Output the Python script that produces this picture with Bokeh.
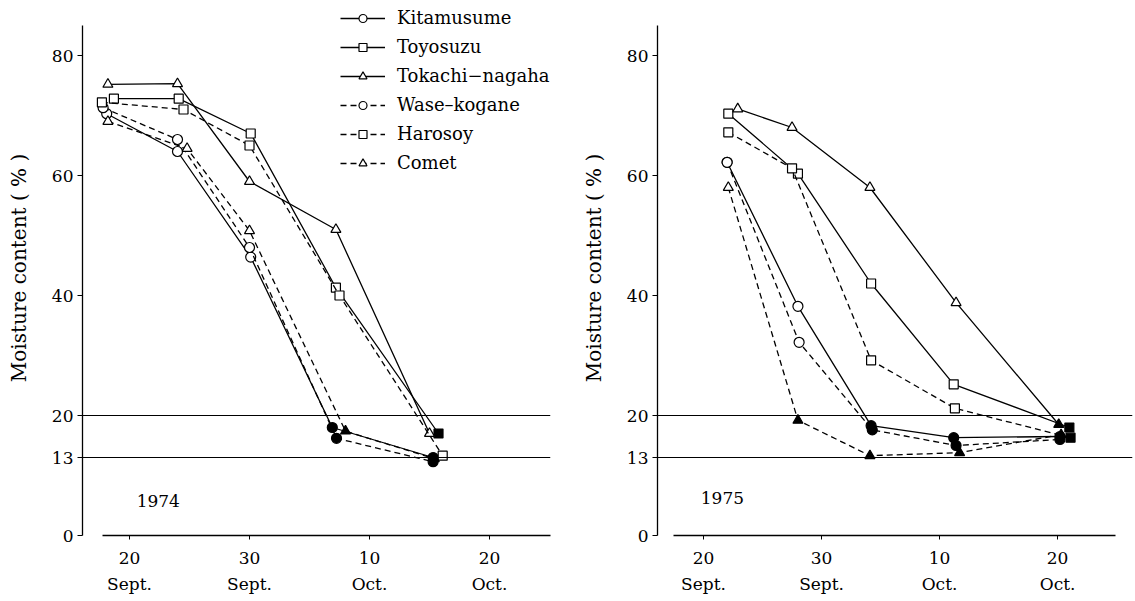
from bokeh.plotting import figure
from bokeh.layouts import row
from bokeh.models import ColumnDataSource, Span, Label, Legend, LegendItem, FixedTicker
from bokeh.embed import file_html
from bokeh.resources import INLINE

# ---------------- data ----------------
# x values are day numbers: Sept d -> d, Oct d -> 30 + d
varieties = ["Kitamusume", "Toyosuzu", "Tokachi-nagaha", "Wase-kogane", "Harosoy", "Comet"]
legend_labels = ["Kitamusume", "Toyosuzu", "Tokachi\u2212nagaha", "Wase\u2013kogane", "Harosoy", "Comet"]

# 1974
kitamusume_1974_x = [18.1, 24.0, 30.1, 36.9, 45.3]
kitamusume_1974_y = [70.3, 64.0, 46.4, 18.0, 13.0]
kitamusume_1974_filled = [0, 0, 0, 1, 1]
toyosuzu_1974_x = [18.7, 24.1, 30.1, 37.2, 45.75]
toyosuzu_1974_y = [72.8, 72.8, 67.0, 41.3, 17.0]
toyosuzu_1974_filled = [0, 0, 0, 0, 1]
tokachi_1974_x = [18.2, 24.0, 30.0, 37.2, 45.0]
tokachi_1974_y = [75.2, 75.3, 59.0, 51.0, 17.0]
tokachi_1974_filled = [0, 0, 0, 0, 0]
wase_1974_x = [17.8, 24.0, 30.0, 37.25, 45.3]
wase_1974_y = [71.3, 66.0, 48.0, 16.2, 12.3]
wase_1974_filled = [0, 0, 0, 1, 1]
harosoy_1974_x = [17.7, 24.5, 30.0, 37.5, 46.1]
harosoy_1974_y = [72.2, 71.0, 65.0, 40.0, 13.3]
harosoy_1974_filled = [0, 0, 0, 0, 0]
comet_1974_x = [18.2, 24.8, 30.0, 38.0, 45.4]
comet_1974_y = [69.0, 64.5, 50.8, 17.4, 12.8]
comet_1974_filled = [0, 0, 0, 1, 1]

# 1975
kitamusume_1975_x = [22.0, 28.0, 34.2, 41.2, 50.2]
kitamusume_1975_y = [62.2, 38.2, 18.3, 16.3, 16.5]
kitamusume_1975_filled = [0, 0, 1, 1, 1]
toyosuzu_1975_x = [22.1, 28.0, 34.2, 41.2, 51.0]
toyosuzu_1975_y = [70.3, 60.3, 42.0, 25.2, 18.0]
toyosuzu_1975_filled = [0, 0, 0, 0, 1]
tokachi_1975_x = [22.9, 27.5, 34.1, 41.4, 50.1]
tokachi_1975_y = [71.1, 68.0, 58.0, 38.8, 18.5]
tokachi_1975_filled = [0, 0, 0, 0, 1]
wase_1975_x = [22.0, 28.1, 34.3, 41.4, 50.2]
wase_1975_y = [62.2, 32.2, 17.6, 15.0, 16.0]
wase_1975_filled = [0, 0, 1, 1, 1]
harosoy_1975_x = [22.1, 27.5, 34.2, 41.3, 51.1]
harosoy_1975_y = [67.2, 61.2, 29.2, 21.2, 16.3]
harosoy_1975_filled = [0, 0, 0, 0, 1]
comet_1975_x = [22.1, 28.0, 34.1, 41.7, 50.3]
comet_1975_y = [58.0, 19.2, 13.3, 13.8, 16.8]
comet_1975_filled = [0, 1, 1, 1, 1]

y_ticks = [0, 13, 20, 40, 60, 80]
x_ticks = [20, 30, 40, 50]
x_tick_labels = ["20\nSept.", "30\nSept.", "10\nOct.", "20\nOct."]
thresholds = [20, 13]
years = ["1974", "1975"]

# ---------------- styles ----------------
markers = {"Kitamusume": "circle", "Toyosuzu": "square", "Tokachi-nagaha": "triangle",
           "Wase-kogane": "circle", "Harosoy": "square", "Comet": "triangle"}
dashes = {"Kitamusume": "solid", "Toyosuzu": "solid", "Tokachi-nagaha": "solid",
          "Wase-kogane": "6 4", "Harosoy": "6 4", "Comet": "6 4"}
sizes = {"circle": 10, "square": 9, "triangle": 10}
FONT = "DejaVu Serif"
INK = "black"

data_1974 = {
    "Kitamusume": (kitamusume_1974_x, kitamusume_1974_y, kitamusume_1974_filled),
    "Toyosuzu": (toyosuzu_1974_x, toyosuzu_1974_y, toyosuzu_1974_filled),
    "Tokachi-nagaha": (tokachi_1974_x, tokachi_1974_y, tokachi_1974_filled),
    "Wase-kogane": (wase_1974_x, wase_1974_y, wase_1974_filled),
    "Harosoy": (harosoy_1974_x, harosoy_1974_y, harosoy_1974_filled),
    "Comet": (comet_1974_x, comet_1974_y, comet_1974_filled),
}
data_1975 = {
    "Kitamusume": (kitamusume_1975_x, kitamusume_1975_y, kitamusume_1975_filled),
    "Toyosuzu": (toyosuzu_1975_x, toyosuzu_1975_y, toyosuzu_1975_filled),
    "Tokachi-nagaha": (tokachi_1975_x, tokachi_1975_y, tokachi_1975_filled),
    "Wase-kogane": (wase_1975_x, wase_1975_y, wase_1975_filled),
    "Harosoy": (harosoy_1975_x, harosoy_1975_y, harosoy_1975_filled),
    "Comet": (comet_1975_x, comet_1975_y, comet_1975_filled),
}


def make_panel(data, width, b_left, b_right, x_start, x_end, x_bounds, year, year_x, year_y, with_legend):
    p = figure(width=width, height=601, output_backend="svg", toolbar_location=None,
               x_range=(x_start, x_end), y_range=(0, 535 / 6.0),
               min_border_left=b_left, min_border_right=b_right,
               min_border_top=0, min_border_bottom=66)
    p.outline_line_color = None
    p.xgrid.visible = False
    p.ygrid.visible = False
    p.background_fill_color = "white"
    p.border_fill_color = "white"

    for t in thresholds:
        p.add_layout(Span(location=t, dimension="width", line_color=INK, line_width=1.1))

    items = []
    for name, lab in zip(varieties, legend_labels):
        xs, ys, filled = data[name]
        src = ColumnDataSource(dict(x=xs, y=ys,
                                    fill=[INK if f else "white" for f in filled]))
        lr = p.line("x", "y", source=src, line_color=INK, line_width=1.3,
                    line_dash=dashes[name])
        m = markers[name]
        sr = p.scatter("x", "y", source=src, marker=m, size=sizes[m],
                       fill_color="fill", line_color=INK, line_width=1.2)
        items.append(LegendItem(label=lab, renderers=[lr, sr], index=0))

    if with_legend:
        leg = Legend(items=items, location=(258, 362), border_line_color=None,
                     background_fill_alpha=0, padding=0, margin=0, spacing=8,
                     label_height=20, glyph_height=20, glyph_width=45, label_standoff=12,
                     label_text_font=FONT, label_text_font_size="18px",
                     label_text_color=INK)
        p.add_layout(leg, "center")

    p.add_layout(Label(x=year_x, y=year_y, text=year, text_font=FONT, text_font_size="17px",
                       text_align="center", text_baseline="middle", text_color=INK))

    ya = p.yaxis[0]
    ya.ticker = FixedTicker(ticks=y_ticks)
    ya.bounds = (0, 85)
    ya.major_tick_out = 5
    ya.major_tick_in = 0
    ya.minor_tick_out = 0
    ya.minor_tick_in = 0
    ya.axis_line_width = 1.3
    ya.axis_line_color = INK
    ya.major_tick_line_color = INK
    ya.major_label_standoff = 4
    ya.major_label_text_font = FONT
    ya.major_label_text_font_size = "17px"
    ya.major_label_text_color = INK
    ya.axis_label = "Moisture content ( % )"
    ya.axis_label_text_font = FONT
    ya.axis_label_text_font_style = "normal"
    ya.axis_label_text_font_size = "20px"
    ya.axis_label_text_color = INK
    ya.axis_label_standoff = 18

    xa = p.xaxis[0]
    xa.ticker = FixedTicker(ticks=x_ticks)
    xa.major_label_overrides = {t: s for t, s in zip(x_ticks, x_tick_labels)}
    xa.bounds = x_bounds
    xa.major_tick_out = 4
    xa.major_tick_in = 0
    xa.minor_tick_out = 0
    xa.minor_tick_in = 0
    xa.axis_line_width = 1.3
    xa.axis_line_color = INK
    xa.major_tick_line_color = INK
    xa.major_label_standoff = 8
    xa.major_label_text_font = FONT
    xa.major_label_text_font_size = "17px"
    xa.major_label_text_color = INK
    xa.major_label_text_line_height = 1.3
    return p


p1 = make_panel(data_1974, 567, 82, 17, 16.083, 55.083, (17.75, 55.08), years[0], 22.4, 5.8, True)
p2 = make_panel(data_1975, 568, 90, 3, 16.1, 56.35, (17.46, 54.9), years[1], 21.6, 6.2, False)

layout = row(p1, p2)
open("out.html", "w").write(file_html(layout, INLINE))
